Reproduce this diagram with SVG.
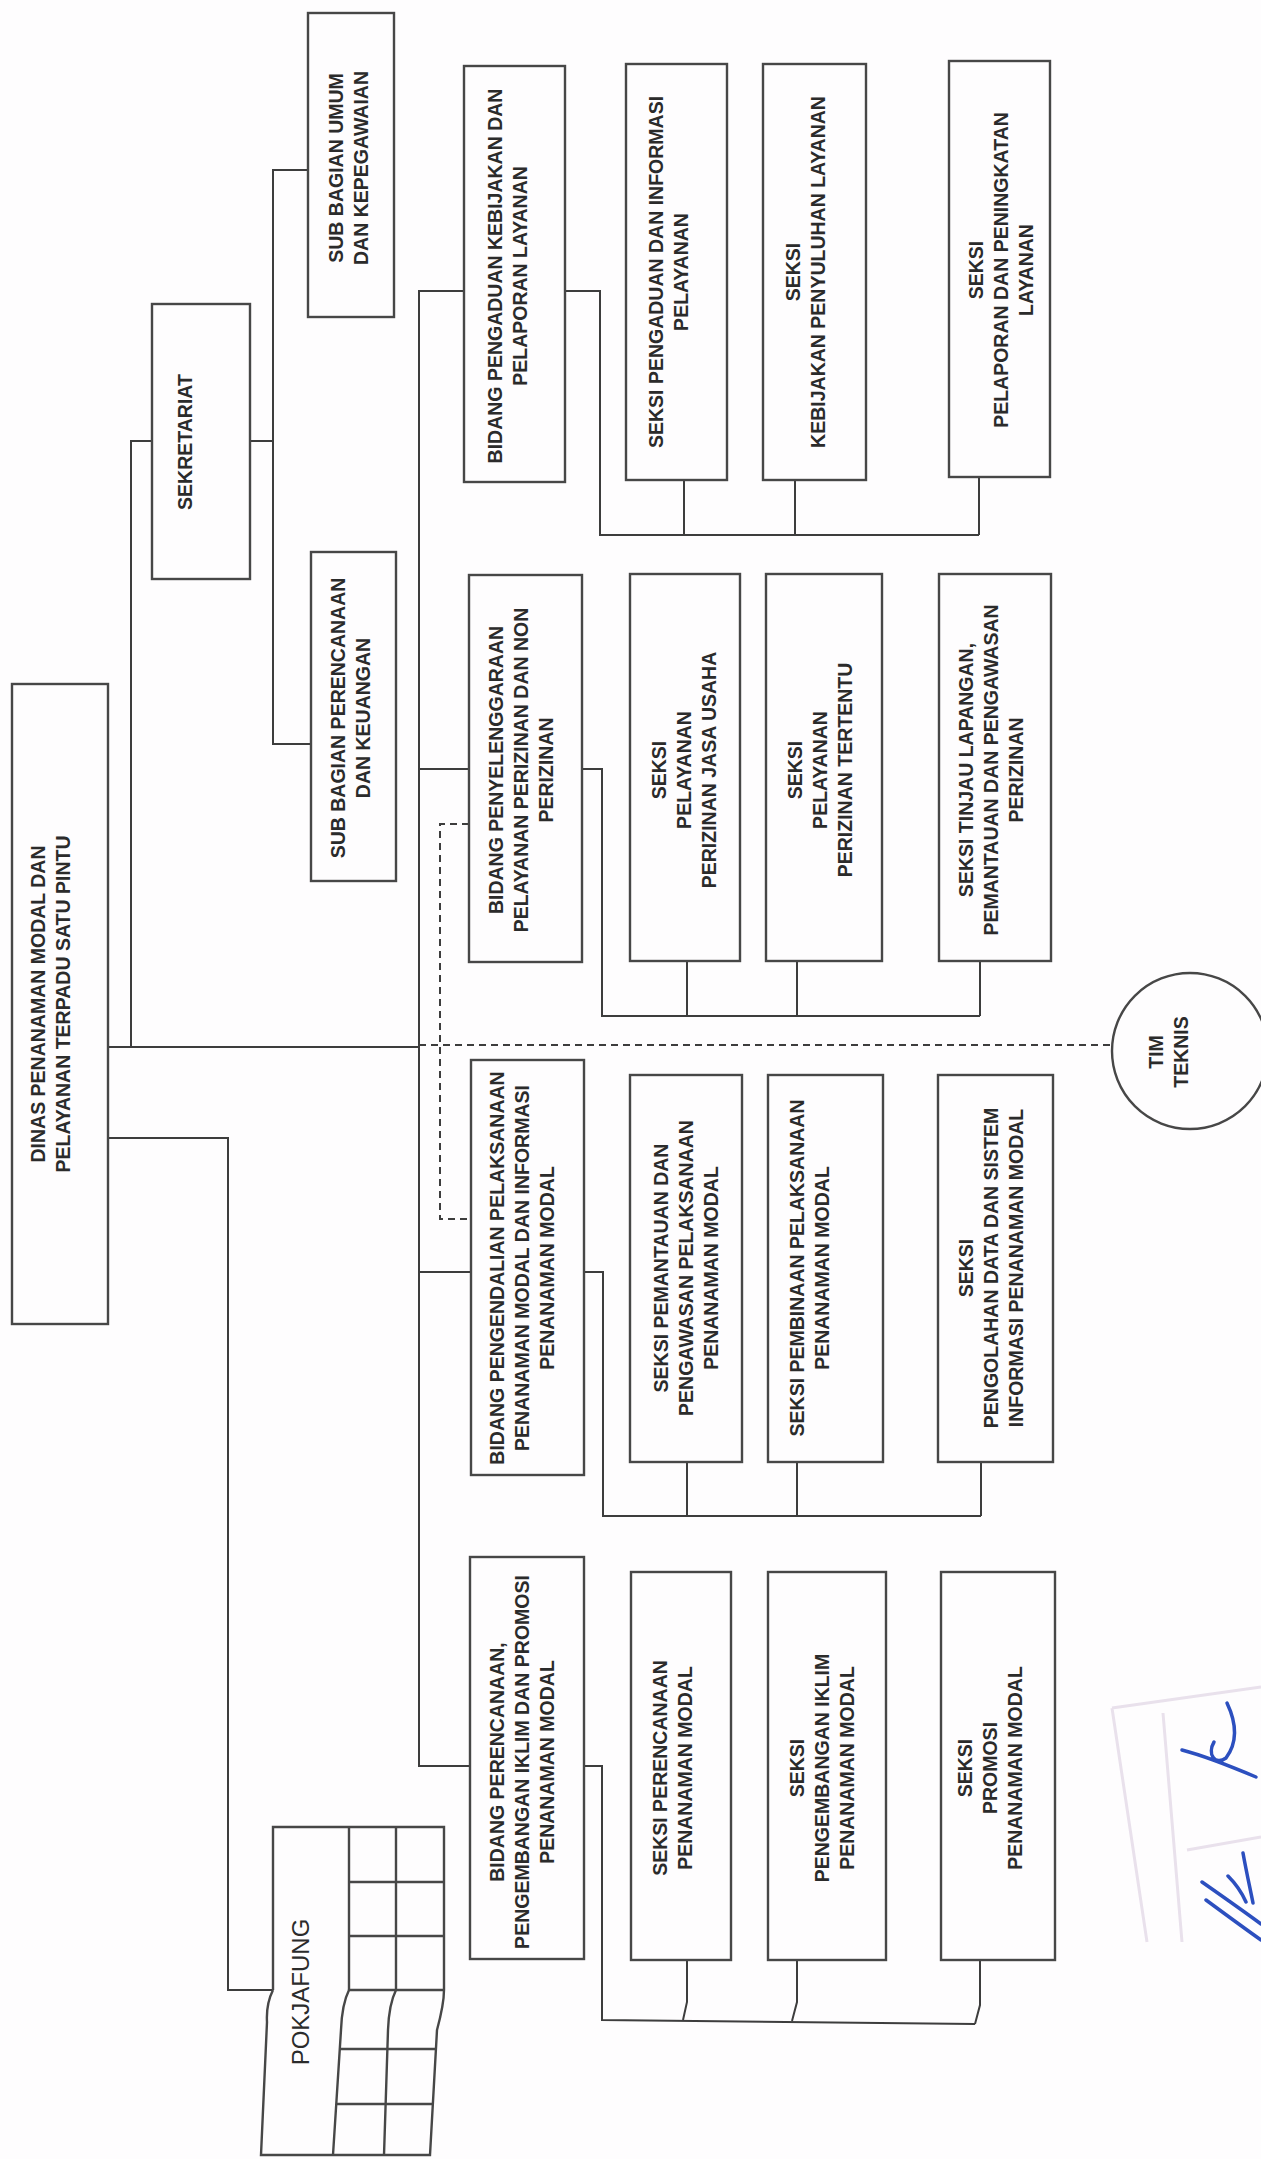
<svg xmlns="http://www.w3.org/2000/svg" width="1261" height="2159" viewBox="0 0 1261 2159">
<style>
.bx{fill:none;stroke:#474747;stroke-width:2.4}
.ln{fill:none;stroke:#3d3d3d;stroke-width:2}
.ds{fill:none;stroke:#3d3d3d;stroke-width:2;stroke-dasharray:7 5}
.t{font-family:"Liberation Sans",Arial,sans-serif;font-weight:bold;font-size:19.5px;fill:#2b2b2b;text-anchor:middle;dominant-baseline:central}
.tp{font-family:"Liberation Sans",Arial,sans-serif;font-size:24px;fill:#2b2b2b;text-anchor:middle;dominant-baseline:central}
.stamp{fill:none;stroke:#e9e1ec;stroke-width:3}
.sig{fill:none;stroke:#2c4fbf;stroke-width:3.5;stroke-linecap:round;stroke-linejoin:round}
</style>
<rect width="1261" height="2159" fill="#fefdfe"/>

<g id="connectors">
<path class="ln" d="M108,1047 H419"/>
<path class="ds" d="M419,1045 H1112"/>
<path class="ln" d="M131,1047 V441 H152"/>
<path class="ln" d="M250,441 H273"/>
<path class="ln" d="M308,170 H273 V744 H311"/>
<path class="ln" d="M108,1138 H228 V1990 H273"/>
<path class="ln" d="M464,291 H419 V1766 H470"/>
<path class="ln" d="M419,769 H469"/>
<path class="ln" d="M419,1272 H471"/>
<path class="ds" d="M469,824 H440 V1219 H471"/>
<path class="ln" d="M565,291 H600 V535 H979"/>
<path class="ln" d="M684,480 V535 M795,480 V535 M979,477 V535"/>
<path class="ln" d="M582,769 H602 V1016 H980"/>
<path class="ln" d="M687,961 V1016 M797,961 V1016 M980,961 V1016"/>
<path class="ln" d="M584,1272 H603 V1516 H981"/>
<path class="ln" d="M687,1462 V1516 M797,1462 V1516 M981,1462 V1516"/>
<path class="ln" d="M584,1766 H602 V2020 L975,2024"/>
<path class="ln" d="M687,1960 V2002 L683,2020 M797,1960 V2002 L792,2021 M980,1960 V2005 L975,2024"/>
</g>

<g id="dinas">
<rect class="bx" x="12" y="684" width="96" height="640"/>
<text class="t" transform="translate(50,1004) rotate(-90)"><tspan x="0" y="-12.5">DINAS PENANAMAN MODAL DAN</tspan><tspan x="0" y="12.5">PELAYANAN TERPADU SATU PINTU</tspan></text>
</g>

<g id="sekretariat">
<rect class="bx" x="152" y="304" width="98" height="275"/>
<text class="t" transform="translate(185,442) rotate(-90)"><tspan x="0" y="0">SEKRETARIAT</tspan></text>
</g>

<g id="subbag-umum">
<rect class="bx" x="308" y="13" width="86" height="304"/>
<text class="t" transform="translate(348,168) rotate(-90)"><tspan x="0" y="-12.5">SUB BAGIAN UMUM</tspan><tspan x="0" y="12.5">DAN KEPEGAWAIAN</tspan></text>
</g>

<g id="subbag-perencanaan">
<rect class="bx" x="311" y="552" width="85" height="329"/>
<text class="t" transform="translate(350,718) rotate(-90)"><tspan x="0" y="-12.5">SUB BAGIAN PERENCANAAN</tspan><tspan x="0" y="12.5">DAN KEUANGAN</tspan></text>
</g>

<g id="bidang-pengaduan">
<rect class="bx" x="464" y="66" width="101" height="416"/>
<text class="t" transform="translate(507,276) rotate(-90)"><tspan x="0" y="-12.5">BIDANG PENGADUAN KEBIJAKAN DAN</tspan><tspan x="0" y="12.5">PELAPORAN LAYANAN</tspan></text>
</g>

<g id="bidang-penyelenggaraan">
<rect class="bx" x="469" y="575" width="113" height="387"/>
<text class="t" transform="translate(521,770) rotate(-90)"><tspan x="0" y="-25">BIDANG PENYELENGGARAAN</tspan><tspan x="0" y="0">PELAYANAN PERIZINAN DAN NON</tspan><tspan x="0" y="25">PERIZINAN</tspan></text>
</g>

<g id="bidang-pengendalian">
<rect class="bx" x="471" y="1060" width="113" height="415"/>
<text class="t" transform="translate(522,1268) rotate(-90)"><tspan x="0" y="-25">BIDANG PENGENDALIAN PELAKSANAAN</tspan><tspan x="0" y="0">PENANAMAN MODAL DAN INFORMASI</tspan><tspan x="0" y="25">PENANAMAN MODAL</tspan></text>
</g>

<g id="bidang-perencanaan">
<rect class="bx" x="470" y="1557" width="114" height="402"/>
<text class="t" transform="translate(522,1762) rotate(-90)"><tspan x="0" y="-25">BIDANG PERENCANAAN,</tspan><tspan x="0" y="0">PENGEMBANGAN IKLIM DAN PROMOSI</tspan><tspan x="0" y="25">PENANAMAN MODAL</tspan></text>
</g>

<g id="seksi-pengaduan">
<rect class="bx" x="626" y="64" width="101" height="416"/>
<text class="t" transform="translate(668,272) rotate(-90)"><tspan x="0" y="-12.5">SEKSI PENGADUAN DAN INFORMASI</tspan><tspan x="0" y="12.5">PELAYANAN</tspan></text>
</g>

<g id="seksi-kebijakan">
<rect class="bx" x="763" y="64" width="103" height="416"/>
<text class="t" transform="translate(805,272) rotate(-90)"><tspan x="0" y="-12.5">SEKSI</tspan><tspan x="0" y="12.5">KEBIJAKAN PENYULUHAN LAYANAN</tspan></text>
</g>

<g id="seksi-pelaporan">
<rect class="bx" x="949" y="61" width="101" height="416"/>
<text class="t" transform="translate(1001,270) rotate(-90)"><tspan x="0" y="-25">SEKSI</tspan><tspan x="0" y="0">PELAPORAN DAN PENINGKATAN</tspan><tspan x="0" y="25">LAYANAN</tspan></text>
</g>

<g id="seksi-jasa-usaha">
<rect class="bx" x="630" y="574" width="110" height="387"/>
<text class="t" transform="translate(684,770) rotate(-90)"><tspan x="0" y="-25">SEKSI</tspan><tspan x="0" y="0">PELAYANAN</tspan><tspan x="0" y="25">PERIZINAN JASA USAHA</tspan></text>
</g>

<g id="seksi-perizinan-tertentu">
<rect class="bx" x="766" y="574" width="116" height="387"/>
<text class="t" transform="translate(820,770) rotate(-90)"><tspan x="0" y="-25">SEKSI</tspan><tspan x="0" y="0">PELAYANAN</tspan><tspan x="0" y="25">PERIZINAN TERTENTU</tspan></text>
</g>

<g id="seksi-tinjau">
<rect class="bx" x="939" y="574" width="112" height="387"/>
<text class="t" transform="translate(991,770) rotate(-90)"><tspan x="0" y="-25">SEKSI TINJAU LAPANGAN,</tspan><tspan x="0" y="0">PEMANTAUAN DAN PENGAWASAN</tspan><tspan x="0" y="25">PERIZINAN</tspan></text>
</g>

<g id="seksi-pemantauan">
<rect class="bx" x="630" y="1075" width="112" height="387"/>
<text class="t" transform="translate(686,1268) rotate(-90)"><tspan x="0" y="-25">SEKSI PEMANTAUAN DAN</tspan><tspan x="0" y="0">PENGAWASAN PELAKSANAAN</tspan><tspan x="0" y="25">PENANAMAN MODAL</tspan></text>
</g>

<g id="seksi-pembinaan">
<rect class="bx" x="768" y="1075" width="115" height="387"/>
<text class="t" transform="translate(809,1268) rotate(-90)"><tspan x="0" y="-12.5">SEKSI PEMBINAAN PELAKSANAAN</tspan><tspan x="0" y="12.5">PENANAMAN MODAL</tspan></text>
</g>

<g id="seksi-pengolahan">
<rect class="bx" x="938" y="1075" width="115" height="387"/>
<text class="t" transform="translate(991,1268) rotate(-90)"><tspan x="0" y="-25">SEKSI</tspan><tspan x="0" y="0">PENGOLAHAN DATA DAN SISTEM</tspan><tspan x="0" y="25">INFORMASI PENANAMAN MODAL</tspan></text>
</g>

<g id="seksi-perencanaan">
<rect class="bx" x="631" y="1572" width="100" height="388"/>
<text class="t" transform="translate(672,1768) rotate(-90)"><tspan x="0" y="-12.5">SEKSI PERENCANAAN</tspan><tspan x="0" y="12.5">PENANAMAN MODAL</tspan></text>
</g>

<g id="seksi-iklim">
<rect class="bx" x="768" y="1572" width="118" height="388"/>
<text class="t" transform="translate(822,1768) rotate(-90)"><tspan x="0" y="-25">SEKSI</tspan><tspan x="0" y="0">PENGEMBANGAN IKLIM</tspan><tspan x="0" y="25">PENANAMAN MODAL</tspan></text>
</g>

<g id="seksi-promosi">
<rect class="bx" x="941" y="1572" width="114" height="388"/>
<text class="t" transform="translate(990,1768) rotate(-90)"><tspan x="0" y="-25">SEKSI</tspan><tspan x="0" y="0">PROMOSI</tspan><tspan x="0" y="25">PENANAMAN MODAL</tspan></text>
</g>

<g id="tim-teknis">
<circle class="bx" cx="1190" cy="1051" r="78"/>
<text class="t" transform="translate(1168,1052) rotate(-90)"><tspan x="0" y="-12.5">TIM</tspan><tspan x="0" y="12.5">TEKNIS</tspan></text>
</g>

<g id="pokjafung">
<path class="bx" d="M273,1990 V1827 H444 V1990"/>
<path class="bx" d="M349,1827 V1990 M396,1827 V1990 M349,1882 H444 M349,1936 H444 M349,1990 H444"/>
<path class="bx" d="M273,1990 Q266,2004 267,2022 L261,2155 H430 L437,2030 Q444,2004 444,1990"/>
<path class="bx" d="M349,1990 Q342,2004 341,2030 L333,2155 M396,1990 Q389,2004 388,2030 L384,2155 M340,2049 H437 M336,2104 H433"/>
<text class="tp" transform="translate(300,1992) rotate(-90)"><tspan x="0" y="0">POKJAFUNG</tspan></text>
</g>

<g id="signature">
<path class="stamp" d="M1112,1708 L1261,1687 M1112,1708 L1147,1942 M1163,1713 L1182,1942 M1187,1850 L1261,1837"/>
<path class="sig" d="M1182,1750 C1205,1756 1230,1766 1256,1777 M1227,1703 C1236,1722 1238,1742 1226,1758 C1215,1766 1207,1754 1214,1742"/>
<path class="sig" d="M1202,1882 C1222,1896 1242,1910 1261,1924 M1206,1900 C1225,1914 1244,1928 1261,1940 M1243,1853 C1246,1870 1250,1888 1253,1903 M1228,1876 C1236,1884 1242,1893 1246,1902"/>
</g>
</svg>
